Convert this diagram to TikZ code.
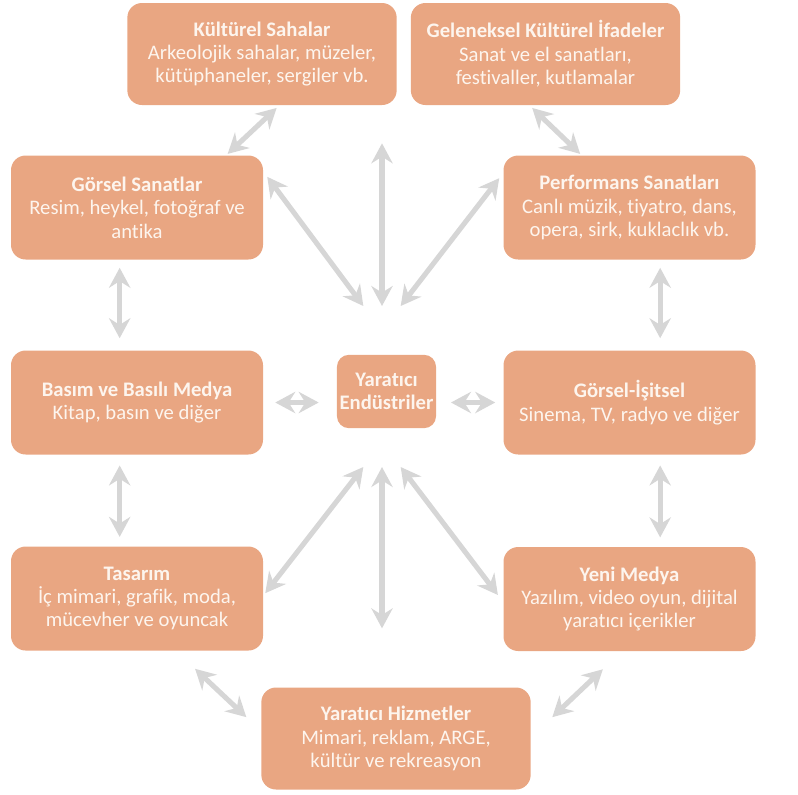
\documentclass[tikz,border=0pt]{standalone}
\usepackage{fontspec}
\setmainfont{Carlito}[Ligatures=NoCommon]
\usetikzlibrary{arrows.meta}
\definecolor{kutu}{RGB}{233,166,130}
\definecolor{ok}{RGB}{214,214,214}
\definecolor{yazi}{RGB}{253,245,238}

\begin{document}
\begin{tikzpicture}[x=0.75pt, y=-0.75pt,
  alan/.style = {shape=rectangle, rounded corners=11pt, fill=kutu,
    text=yazi, align=center, inner sep=2pt,
    minimum width=189pt, minimum height=78pt,
    font=\fontsize{15.5}{17.5}\selectfont},
  genis/.style = {minimum width=202pt, minimum height=76.5pt},
  iliski/.style = {draw=ok, line width=3.8pt,
    {Stealth[length=15pt,width=16pt,inset=5pt]}-{Stealth[length=15pt,width=16pt,inset=5pt]}}]
  \useasboundingbox (0,0) rectangle (798,794);

  \node[alan, genis] (kultur) at (262,54)
    {\textbf{Kültürel Sahalar}\\Arkeolojik sahalar, müzeler,\\kütüphaneler, sergiler vb.};
  \node[alan, genis] (gelenek) at (545.5,54)
    {\textbf{Geleneksel Kültürel İfadeler}\\Sanat ve el sanatları,\\festivaller, kutlamalar};
  \node[alan] (gorsel) at (137,207.5)
    {\textbf{Görsel Sanatlar}\\Resim, heykel, fotoğraf ve\\antika};
  \node[alan] (performans) at (629.5,207.5)
    {\textbf{Performans Sanatları}\\Canlı müzik, tiyatro, dans,\\opera, sirk, kuklaclık vb.};
  \node[alan] (basim) at (137,402.5)
    {\textbf{Basım ve Basılı Medya}\\Kitap, basın ve diğer};
  \node[alan, minimum width=65pt, minimum height=55pt, rounded corners=9pt] (merkez) at (386.5,391.5)
    {\textbf{Yaratıcı}\\\textbf{Endüstriler}};
  \node[alan] (isitsel) at (629.5,402.5)
    {\textbf{Görsel-İşitsel}\\Sinema, TV, radyo ve diğer};
  \node[alan] (tasarim) at (137,598.5)
    {\textbf{Tasarım}\\İç mimari, grafik, moda,\\mücevher ve oyuncak};
  \node[alan] (yeni) at (629.5,599)
    {\textbf{Yeni Medya}\\Yazılım, video oyun, dijital\\yaratıcı içerikler};
  \node[alan, genis] (hizmet) at (396,738.5)
    {\textbf{Yaratıcı Hizmetler}\\Mimari, reklam, ARGE,\\kültür ve rekreasyon};

  % uclar merkezin ustunde ve altinda
  \coordinate (ust) at (382,306);
  \coordinate (alt) at (382,467);

  % dis halka
  \draw[iliski] ([xshift=11pt,yshift=-2pt]kultur.south) -- ([xshift=68pt,yshift=1pt]gorsel.north);
  \draw[iliski] ([xshift=-10pt,yshift=-2pt]gelenek.south) -- ([xshift=-37pt,yshift=1pt]performans.north);
  \draw[iliski, shorten <=6pt, shorten >=9pt] ([xshift=-13pt]gorsel.south) -- ([xshift=-13pt]basim.north);
  \draw[iliski, shorten <=6pt, shorten >=9pt] ([xshift=23pt]performans.south) -- ([xshift=23pt]isitsel.north);
  \draw[iliski, shorten <=8pt, shorten >=7pt] ([xshift=-13pt]basim.south) -- ([xshift=-13pt]tasarim.north);
  \draw[iliski, shorten <=8pt, shorten >=7pt] ([xshift=23pt]isitsel.south) -- ([xshift=23pt]yeni.north);
  \draw[iliski] ([xshift=43.5pt,yshift=-13.5pt]tasarim.south) -- ([xshift=-11pt,yshift=16pt]hizmet.west);
  \draw[iliski] ([xshift=-20pt,yshift=-13.5pt]yeni.south) -- ([xshift=16pt,yshift=16pt]hizmet.east);

  % merkeze giden oklar
  \draw[iliski] ([xshift=3pt,yshift=23pt]gorsel.east) -- ([xshift=-14pt]ust);
  \draw[iliski] ([yshift=122pt]ust) -- (ust);
  \draw[iliski] ([xshift=-3pt,yshift=22pt]performans.west) -- ([xshift=14pt]ust);
  \draw[iliski, shorten <=9pt, shorten >=13.5pt] (basim.east) -- (basim.east -| merkez.west);
  \draw[iliski, shorten <=11pt, shorten >=6pt] (isitsel.west -| merkez.east) -- (isitsel.west);
  \draw[iliski] ([xshift=1.5pt,yshift=4pt]tasarim.east) -- ([xshift=-14pt]alt);
  \draw[iliski] (alt) -- ([yshift=-121pt]alt);
  \draw[iliski] ([xshift=-4pt,yshift=3pt]yeni.west) -- ([xshift=14pt]alt);
\end{tikzpicture}
\end{document}
